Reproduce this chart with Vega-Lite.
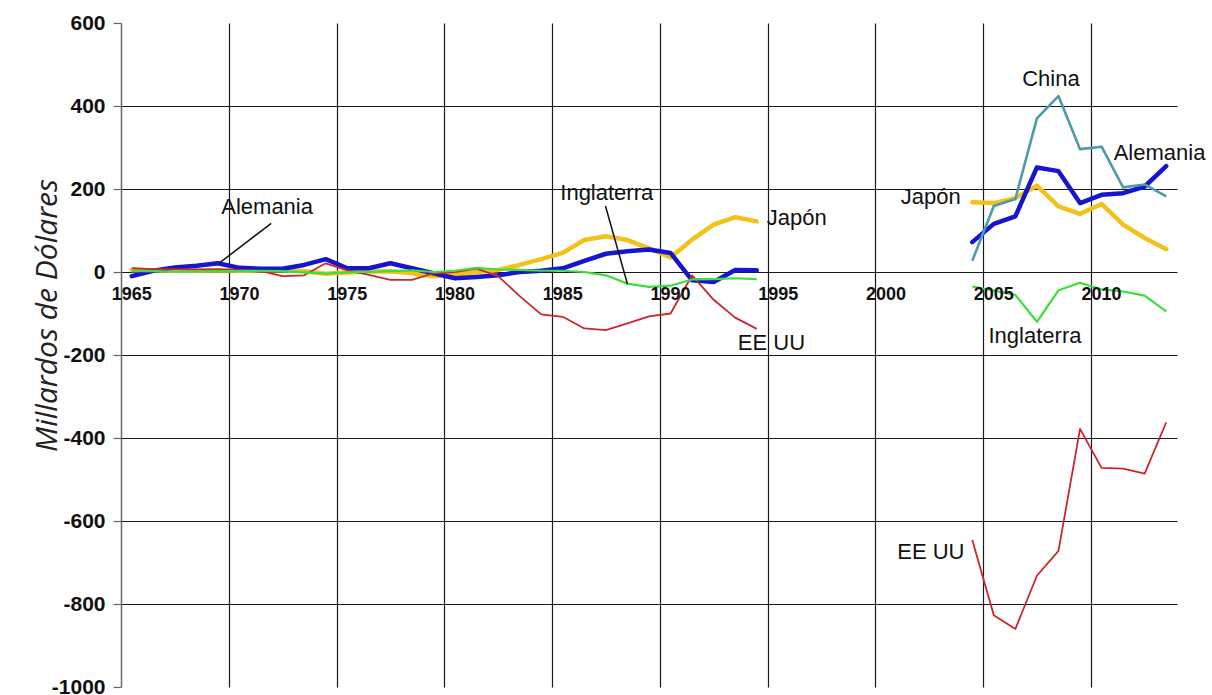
{
  "$schema": "https://vega.github.io/schema/vega-lite/v6.json",
  "width": 1056,
  "height": 664,
  "autosize": {"type": "none"},
  "padding": {"left": 121, "top": 23, "right": 35, "bottom": 8},
  "background": "white",
  "config": {"view": {"stroke": null}, "font": "Liberation Sans"},
  "datasets": {
    "series": [
      {"p":"Japón","t":1,"a":1965,"v":5},{"p":"Japón","t":1,"a":1966,"v":4},{"p":"Japón","t":1,"a":1967,"v":3},{"p":"Japón","t":1,"a":1968,"v":3},{"p":"Japón","t":1,"a":1969,"v":4},{"p":"Japón","t":1,"a":1970,"v":3},{"p":"Japón","t":1,"a":1971,"v":4},{"p":"Japón","t":1,"a":1972,"v":4},{"p":"Japón","t":1,"a":1973,"v":2},{"p":"Japón","t":1,"a":1974,"v":-4},{"p":"Japón","t":1,"a":1975,"v":-1},{"p":"Japón","t":1,"a":1976,"v":1},{"p":"Japón","t":1,"a":1977,"v":2},{"p":"Japón","t":1,"a":1978,"v":-3},{"p":"Japón","t":1,"a":1979,"v":-10},{"p":"Japón","t":1,"a":1980,"v":-6},{"p":"Japón","t":1,"a":1981,"v":0},{"p":"Japón","t":1,"a":1982,"v":5},{"p":"Japón","t":1,"a":1983,"v":17},{"p":"Japón","t":1,"a":1984,"v":31},{"p":"Japón","t":1,"a":1985,"v":46},{"p":"Japón","t":1,"a":1986,"v":77},{"p":"Japón","t":1,"a":1987,"v":86},{"p":"Japón","t":1,"a":1988,"v":77},{"p":"Japón","t":1,"a":1989,"v":57},{"p":"Japón","t":1,"a":1990,"v":35},{"p":"Japón","t":1,"a":1991,"v":78},{"p":"Japón","t":1,"a":1992,"v":114},{"p":"Japón","t":1,"a":1993,"v":132},{"p":"Japón","t":1,"a":1994,"v":122},
      {"p":"Japón","t":2,"a":2004,"v":168},{"p":"Japón","t":2,"a":2005,"v":166},{"p":"Japón","t":2,"a":2006,"v":178},{"p":"Japón","t":2,"a":2007,"v":208},{"p":"Japón","t":2,"a":2008,"v":158},{"p":"Japón","t":2,"a":2009,"v":140},{"p":"Japón","t":2,"a":2010,"v":164},{"p":"Japón","t":2,"a":2011,"v":114},{"p":"Japón","t":2,"a":2012,"v":82},{"p":"Japón","t":2,"a":2013,"v":55},
      {"p":"Alemania","t":1,"a":1965,"v":-10},{"p":"Alemania","t":1,"a":1966,"v":3},{"p":"Alemania","t":1,"a":1967,"v":11},{"p":"Alemania","t":1,"a":1968,"v":15},{"p":"Alemania","t":1,"a":1969,"v":21},{"p":"Alemania","t":1,"a":1970,"v":10},{"p":"Alemania","t":1,"a":1971,"v":8},{"p":"Alemania","t":1,"a":1972,"v":8},{"p":"Alemania","t":1,"a":1973,"v":17},{"p":"Alemania","t":1,"a":1974,"v":31},{"p":"Alemania","t":1,"a":1975,"v":9},{"p":"Alemania","t":1,"a":1976,"v":9},{"p":"Alemania","t":1,"a":1977,"v":21},{"p":"Alemania","t":1,"a":1978,"v":9},{"p":"Alemania","t":1,"a":1979,"v":-3},{"p":"Alemania","t":1,"a":1980,"v":-15},{"p":"Alemania","t":1,"a":1981,"v":-12},{"p":"Alemania","t":1,"a":1982,"v":-8},{"p":"Alemania","t":1,"a":1983,"v":0},{"p":"Alemania","t":1,"a":1984,"v":3},{"p":"Alemania","t":1,"a":1985,"v":9},{"p":"Alemania","t":1,"a":1986,"v":27},{"p":"Alemania","t":1,"a":1987,"v":44},{"p":"Alemania","t":1,"a":1988,"v":50},{"p":"Alemania","t":1,"a":1989,"v":54},{"p":"Alemania","t":1,"a":1990,"v":46},{"p":"Alemania","t":1,"a":1991,"v":-20},{"p":"Alemania","t":1,"a":1992,"v":-24},{"p":"Alemania","t":1,"a":1993,"v":5},{"p":"Alemania","t":1,"a":1994,"v":4},
      {"p":"Alemania","t":2,"a":2004,"v":72},{"p":"Alemania","t":2,"a":2005,"v":116},{"p":"Alemania","t":2,"a":2006,"v":134},{"p":"Alemania","t":2,"a":2007,"v":252},{"p":"Alemania","t":2,"a":2008,"v":243},{"p":"Alemania","t":2,"a":2009,"v":166},{"p":"Alemania","t":2,"a":2010,"v":186},{"p":"Alemania","t":2,"a":2011,"v":190},{"p":"Alemania","t":2,"a":2012,"v":206},{"p":"Alemania","t":2,"a":2013,"v":255},
      {"p":"EE UU","t":1,"a":1965,"v":9},{"p":"EE UU","t":1,"a":1966,"v":7},{"p":"EE UU","t":1,"a":1967,"v":7},{"p":"EE UU","t":1,"a":1968,"v":6},{"p":"EE UU","t":1,"a":1969,"v":6},{"p":"EE UU","t":1,"a":1970,"v":5},{"p":"EE UU","t":1,"a":1971,"v":2},{"p":"EE UU","t":1,"a":1972,"v":-10},{"p":"EE UU","t":1,"a":1973,"v":-8},{"p":"EE UU","t":1,"a":1974,"v":21},{"p":"EE UU","t":1,"a":1975,"v":4},{"p":"EE UU","t":1,"a":1976,"v":-7},{"p":"EE UU","t":1,"a":1977,"v":-19},{"p":"EE UU","t":1,"a":1978,"v":-19},{"p":"EE UU","t":1,"a":1979,"v":-3},{"p":"EE UU","t":1,"a":1980,"v":0},{"p":"EE UU","t":1,"a":1981,"v":8},{"p":"EE UU","t":1,"a":1982,"v":-10},{"p":"EE UU","t":1,"a":1983,"v":-58},{"p":"EE UU","t":1,"a":1984,"v":-102},{"p":"EE UU","t":1,"a":1985,"v":-108},{"p":"EE UU","t":1,"a":1986,"v":-136},{"p":"EE UU","t":1,"a":1987,"v":-140},{"p":"EE UU","t":1,"a":1988,"v":-124},{"p":"EE UU","t":1,"a":1989,"v":-107},{"p":"EE UU","t":1,"a":1990,"v":-100},{"p":"EE UU","t":1,"a":1991,"v":-8},{"p":"EE UU","t":1,"a":1992,"v":-67},{"p":"EE UU","t":1,"a":1993,"v":-110},{"p":"EE UU","t":1,"a":1994,"v":-137},
      {"p":"EE UU","t":2,"a":2004,"v":-646},{"p":"EE UU","t":2,"a":2005,"v":-827},{"p":"EE UU","t":2,"a":2006,"v":-860},{"p":"EE UU","t":2,"a":2007,"v":-732},{"p":"EE UU","t":2,"a":2008,"v":-672},{"p":"EE UU","t":2,"a":2009,"v":-378},{"p":"EE UU","t":2,"a":2010,"v":-472},{"p":"EE UU","t":2,"a":2011,"v":-474},{"p":"EE UU","t":2,"a":2012,"v":-486},{"p":"EE UU","t":2,"a":2013,"v":-362},
      {"p":"Inglaterra","t":1,"a":1965,"v":2},{"p":"Inglaterra","t":1,"a":1966,"v":2},{"p":"Inglaterra","t":1,"a":1967,"v":1},{"p":"Inglaterra","t":1,"a":1968,"v":1},{"p":"Inglaterra","t":1,"a":1969,"v":2},{"p":"Inglaterra","t":1,"a":1970,"v":2},{"p":"Inglaterra","t":1,"a":1971,"v":3},{"p":"Inglaterra","t":1,"a":1972,"v":2},{"p":"Inglaterra","t":1,"a":1973,"v":-1},{"p":"Inglaterra","t":1,"a":1974,"v":-4},{"p":"Inglaterra","t":1,"a":1975,"v":-1},{"p":"Inglaterra","t":1,"a":1976,"v":0},{"p":"Inglaterra","t":1,"a":1977,"v":2},{"p":"Inglaterra","t":1,"a":1978,"v":4},{"p":"Inglaterra","t":1,"a":1979,"v":0},{"p":"Inglaterra","t":1,"a":1980,"v":3},{"p":"Inglaterra","t":1,"a":1981,"v":10},{"p":"Inglaterra","t":1,"a":1982,"v":6},{"p":"Inglaterra","t":1,"a":1983,"v":5},{"p":"Inglaterra","t":1,"a":1984,"v":3},{"p":"Inglaterra","t":1,"a":1985,"v":3},{"p":"Inglaterra","t":1,"a":1986,"v":0},{"p":"Inglaterra","t":1,"a":1987,"v":-8},{"p":"Inglaterra","t":1,"a":1988,"v":-28},{"p":"Inglaterra","t":1,"a":1989,"v":-36},{"p":"Inglaterra","t":1,"a":1990,"v":-33},{"p":"Inglaterra","t":1,"a":1991,"v":-18},{"p":"Inglaterra","t":1,"a":1992,"v":-17},{"p":"Inglaterra","t":1,"a":1993,"v":-15},{"p":"Inglaterra","t":1,"a":1994,"v":-17},
      {"p":"Inglaterra","t":2,"a":2004,"v":-35},{"p":"Inglaterra","t":2,"a":2005,"v":-45},{"p":"Inglaterra","t":2,"a":2006,"v":-55},{"p":"Inglaterra","t":2,"a":2007,"v":-120},{"p":"Inglaterra","t":2,"a":2008,"v":-44},{"p":"Inglaterra","t":2,"a":2009,"v":-26},{"p":"Inglaterra","t":2,"a":2010,"v":-42},{"p":"Inglaterra","t":2,"a":2011,"v":-47},{"p":"Inglaterra","t":2,"a":2012,"v":-57},{"p":"Inglaterra","t":2,"a":2013,"v":-95},
      {"p":"China","t":2,"a":2004,"v":27},{"p":"China","t":2,"a":2005,"v":159},{"p":"China","t":2,"a":2006,"v":176},{"p":"China","t":2,"a":2007,"v":370},{"p":"China","t":2,"a":2008,"v":424},{"p":"China","t":2,"a":2009,"v":296},{"p":"China","t":2,"a":2010,"v":302},{"p":"China","t":2,"a":2011,"v":204},{"p":"China","t":2,"a":2012,"v":211},{"p":"China","t":2,"a":2013,"v":182}
    ],
    "labels": [
      {"a":1971.28,"v":157,"label":"Alemania"},
      {"a":1987.04,"v":190,"label":"Inglaterra"},
      {"a":1995.86,"v":130,"label":"Japón"},
      {"a":1994.68,"v":-171,"label":"EE UU"},
      {"a":2007.65,"v":465,"label":"China"},
      {"a":2012.69,"v":287,"label":"Alemania"},
      {"a":2002.07,"v":180,"label":"Japón"},
      {"a":2006.91,"v":-154,"label":"Inglaterra"},
      {"a":2002.08,"v":-674,"label":"EE UU"}
    ],
    "pointers": [
      {"a":1971.47,"v":117,"a2":1969.07,"v2":22},
      {"a":1986.98,"v":159,"a2":1988.0,"v2":-29}
    ],
    "years": [
      {"a":1965,"v":0,"label":"1965"},{"a":1970,"v":0,"label":"1970"},{"a":1975,"v":0,"label":"1975"},{"a":1980,"v":0,"label":"1980"},{"a":1985,"v":0,"label":"1985"},{"a":1990,"v":0,"label":"1990"},{"a":1995,"v":0,"label":"1995"},{"a":2000,"v":0,"label":"2000"},{"a":2005,"v":0,"label":"2005"},{"a":2010,"v":0,"label":"2010"}
    ]
  },
  "encoding": {
    "x": {
      "field": "a", "type": "quantitative",
      "scale": {"domain": [1964.5, 2013.5], "nice": false, "zero": false},
      "axis": {
        "values": [1969.5, 1974.5, 1979.5, 1984.5, 1989.5, 1994.5, 1999.5, 2004.5, 2009.5],
        "grid": true, "gridColor": "#1a1a1a", "gridWidth": 1.2,
        "labels": false, "ticks": false, "domain": false, "title": null
      }
    },
    "y": {
      "field": "v", "type": "quantitative",
      "scale": {"domain": [-1000, 600], "nice": false, "zero": false},
      "axis": {
        "values": [-1000, -800, -600, -400, -200, 0, 200, 400, 600],
        "labelExpr": "datum.value < 0 ? '-' + abs(datum.value) : '' + datum.value",
        "grid": true, "gridColor": "#1a1a1a", "gridWidth": 1.2,
        "gridOpacity": {"condition": {"test": "datum.value == 600 || datum.value == -1000", "value": 0}, "value": 1},
        "domain": true, "domainColor": "#666666", "domainWidth": 1.5,
        "ticks": true, "tickSize": 8, "tickColor": "#666666", "tickWidth": 1.2,
        "labelFont": "Liberation Sans", "labelFontWeight": "bold", "labelFontSize": 21, "labelColor": "#111111", "labelPadding": 8,
        "title": "Millardos de Dólares",
        "titleFont": "Open Sans", "titleFontStyle": "italic", "titleFontWeight": "normal", "titleFontSize": 30, "titleColor": "#222222",
        "titleAngle": -90, "titleX": -65, "titleY": 292, "titleBaseline": "alphabetic", "titleAlign": "center"
      }
    },
    "color": {"field": "p", "type": "nominal",
      "scale": {"domain": ["Japón", "Alemania", "EE UU", "Inglaterra", "China"], "range": ["#f2c21a", "#1515cf", "#c8282c", "#3ae03a", "#4e9aa8"]},
      "legend": null}
  },
  "layer": [
    {
      "data": {"name": "series"},
      "transform": [{"filter": "datum.p == 'Japón' || datum.p == 'Alemania'"}],
      "mark": {"type": "line", "strokeJoin": "round", "strokeCap": "round", "strokeWidth": 4.5},
      "encoding": {"detail": {"field": "t", "type": "nominal"}}
    },
    {
      "data": {"name": "series"},
      "transform": [{"filter": "datum.p == 'EE UU'"}],
      "mark": {"type": "line", "strokeJoin": "round", "strokeWidth": 1.8},
      "encoding": {"detail": {"field": "t", "type": "nominal"}}
    },
    {
      "data": {"name": "series"},
      "transform": [{"filter": "datum.p == 'Inglaterra'"}],
      "mark": {"type": "line", "strokeJoin": "round", "strokeWidth": 2.2},
      "encoding": {"detail": {"field": "t", "type": "nominal"}}
    },
    {
      "data": {"name": "series"},
      "transform": [{"filter": "datum.p == 'China'"}],
      "mark": {"type": "line", "strokeJoin": "round", "strokeWidth": 2.6},
      "encoding": {"detail": {"field": "t", "type": "nominal"}}
    },
    {
      "data": {"name": "pointers"},
      "mark": {"type": "rule", "color": "#111111", "strokeWidth": 1.5},
      "encoding": {
        "color": {"value": "#111111"},
        "x2": {"field": "a2"},
        "y2": {"field": "v2"}
      }
    },
    {
      "data": {"name": "labels"},
      "mark": {"type": "text", "font": "Liberation Sans", "fontSize": 22, "align": "center", "baseline": "middle"},
      "encoding": {"color": {"value": "#111111"}, "text": {"field": "label"}}
    },
    {
      "data": {"name": "years"},
      "mark": {"type": "text", "font": "Liberation Sans", "fontSize": 18, "fontWeight": "bold", "align": "center", "baseline": "middle", "dy": 23},
      "encoding": {"color": {"value": "#111111"}, "text": {"field": "label"}}
    }
  ]
}
